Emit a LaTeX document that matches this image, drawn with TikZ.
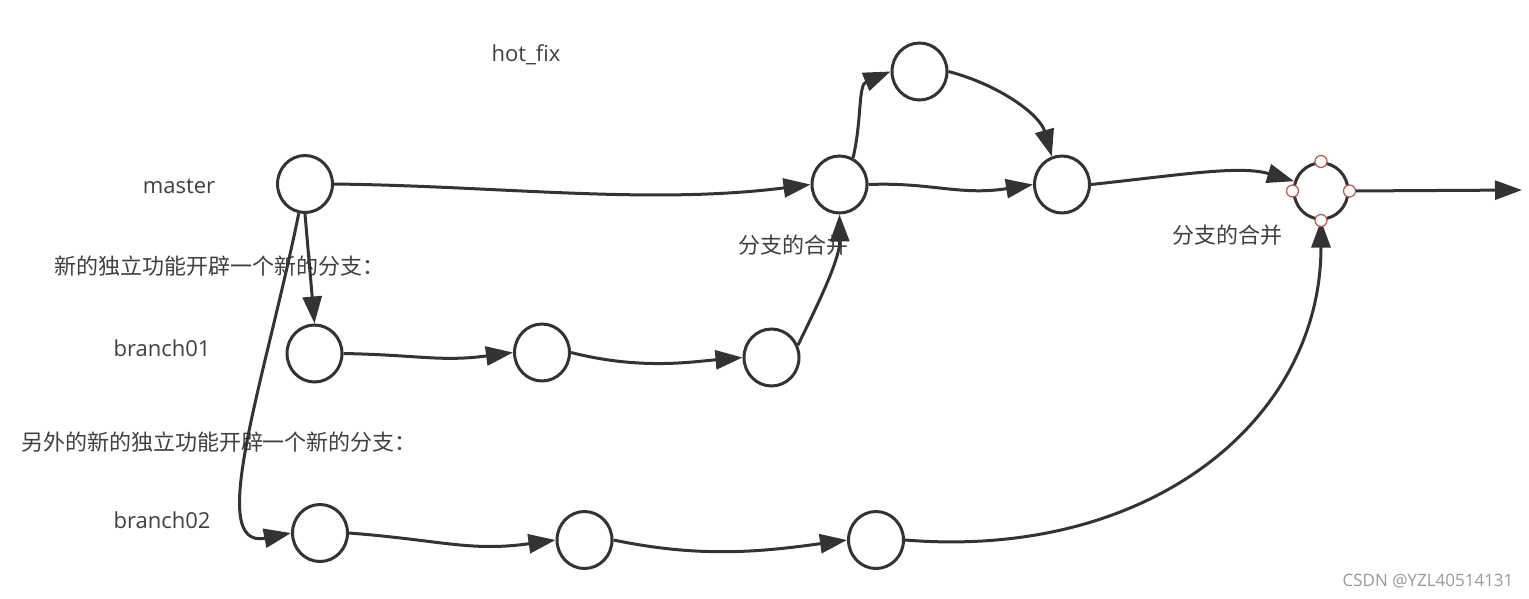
\documentclass[tikz,border=0pt]{standalone}
\usepackage{fontspec}
\setmainfont{Open Sans}
\newfontfamily\cjk{Noto Sans CJK SC}
\usetikzlibrary{arrows.meta,shapes.geometric}
\definecolor{ink}{HTML}{333333}
\definecolor{txt}{HTML}{404040}
\definecolor{hred}{HTML}{B85450}
\tikzset{
  commit/.style={ellipse,draw=ink,line width=3pt,fill=white,minimum width=55pt,minimum height=57pt,inner sep=0pt},
  link/.style={draw=ink,line width=3pt,-{Triangle[length=27pt,width=19pt]}},
  lbl/.style={text=txt,font=\fontsize{22}{26}\selectfont,inner sep=0pt},
  clbl/.style={text=txt,font=\cjk\fontsize{22}{26}\selectfont,inner sep=0pt},
  handle/.style={circle,draw=hred,line width=1.2pt,fill=white,minimum size=12pt,inner sep=0pt},
}
\begin{document}
\begin{tikzpicture}[x=1pt,y=-1pt]
\useasboundingbox[fill=white] (0,0) rectangle (1529,598);
% commits
\node[commit] (m0) at (305,184) {};
\node[commit] (m1) at (839.5,184.5) {};
\node[commit] (hf) at (919.5,71.5) {};
\node[commit] (m2) at (1062,184.5) {};
\node[commit,minimum width=54pt,minimum height=56pt] (m3) at (1321,191) {};
\node[commit] (b11) at (314.5,353.5) {};
\node[commit] (b12) at (542,352.5) {};
\node[commit] (b13) at (771.5,357.5) {};
\node[commit] (b21) at (320,533) {};
\node[commit] (b22) at (584.5,540) {};
\node[commit] (b23) at (876,540) {};
\coordinate (out) at (1522,190);
% labels
\node[lbl] (tmaster) at (179,186) {master};
\node[lbl] (tb1) at (162,348) {branch01};
\node[lbl] (tb2) at (162,520) {branch02};
\node[lbl] (thf) at (526,55) {hot\_fix};
\node[clbl] (tnew1) at (219,266) {新的独立功能开辟一个新的分支：};
\node[clbl] (tnew2) at (219,442) {另外的新的独立功能开辟一个新的分支：};
\node[clbl] (tmerge1) at (793,245) {分支的合并};
\node[clbl] (tmerge2) at (1227,235) {分支的合并};
\node[text=black!40,font=\fontsize{17}{20}\selectfont,inner sep=0pt] (wm) at (1428,581) {CSDN @YZL40514131};
% connectors
\draw[link] (m0.east) .. controls (500,186) and (650,205) .. (m1.west);
\draw[link] (m0.south) -- (b11.north);
\draw[link] (m0.258) .. controls (265,380) and (205,550) .. (b21.west);
\draw[link] (b11.east) .. controls (420,355) and (440,362) .. (b12.west);
\draw[link] (b12.east) .. controls (640,370) and (690,362) .. (b13.west);
\draw[link] (b13.25) .. controls (815,310) and (840,260) .. (m1.south);
\draw[link] (m1.63) .. controls (862,120) and (858,85) .. (hf.west);
\draw[link] (hf.east) .. controls (1000,85) and (1040,115) .. (m2.110);
\draw[link] (m1.east) .. controls (930,182) and (960,196) .. (m2.west);
\draw[link] (m2.east) .. controls (1180,175) and (1240,165) .. (m3.160);
\draw[link] (m3.east) -- (out);
\draw[link] (b21.east) .. controls (440,540) and (470,552) .. (b22.west);
\draw[link] (b22.east) .. controls (700,558) and (760,552) .. (b23.west);
\draw[link] (b23.east) .. controls (1150,560) and (1321,420) .. (m3.south);
% selection handles on merge commit
\node[handle] (h1) at (m3.north) {};
\node[handle] (h2) at (m3.west) {};
\node[handle] (h3) at (m3.east) {};
\node[handle] (h4) at (m3.south) {};
\end{tikzpicture}
\end{document}
